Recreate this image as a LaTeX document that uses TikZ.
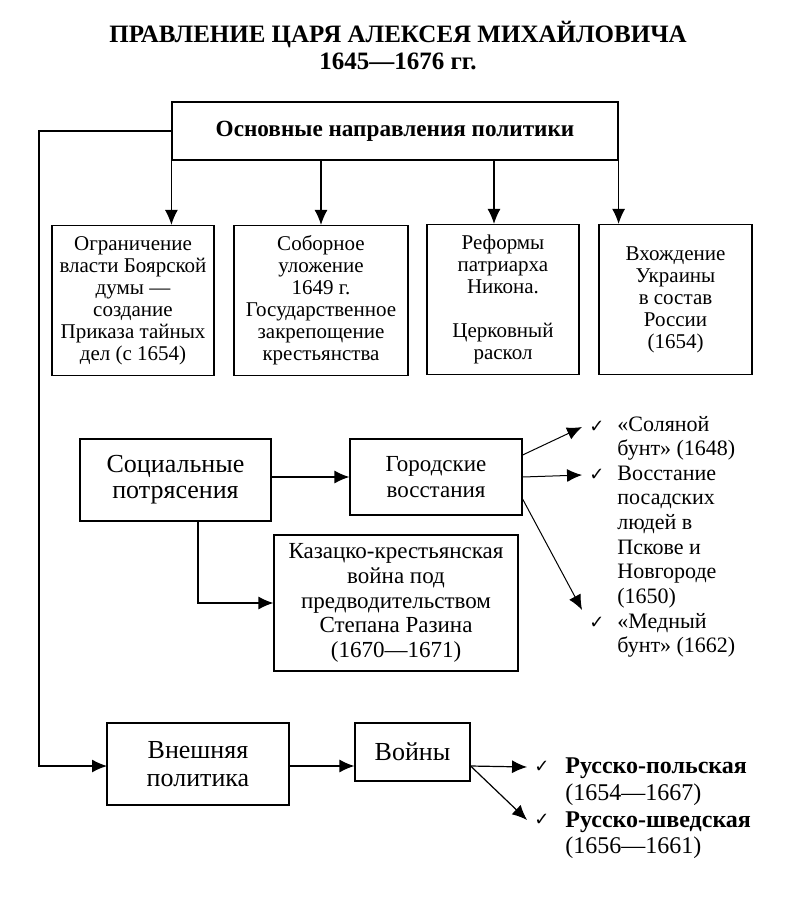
\documentclass[tikz,border=0pt]{standalone}
\usepackage{fontspec}
\setmainfont{Liberation Serif}
\newfontfamily\checkfont{DejaVu Sans}
\usetikzlibrary{arrows.meta}

\begin{document}
\begin{tikzpicture}[x=0.5pt, y=-0.5pt,
  box/.style={rectangle, draw, line width=0.6pt, align=center, inner sep=0pt},
  dirbox/.style={box, minimum height=75pt, font=\fontsize{10.5}{11}\selectfont},
  arr/.style={-{Latex[length=7.5pt,width=6.5pt]}, line width=0.6pt},
  item/.style={anchor=west, align=left, inner sep=0pt},
  tick/.style={inner sep=3.5pt, font=\checkfont\fontsize{9}{10}\selectfont}]

\useasboundingbox (0,0) rectangle (797,911);

% title
\node[align=center, font=\bfseries\fontsize{12.5}{13.5}\selectfont]
(title) at (398,46) {ПРАВЛЕНИЕ ЦАРЯ АЛЕКСЕЯ МИХАЙЛОВИЧА\\1645—1676 гг.};

\node[box, minimum width=223pt, minimum height=29pt,
      font=\bfseries\fontsize{11.6}{14}\selectfont]
(main) at (395,131) {Основные направления политики};

% main directions
\node[dirbox, minimum width=81pt] (duma) at (133,300.5)
  {Ограничение\\власти Боярской\\думы —\\создание\\Приказа тайных\\дел (с 1654)};
\node[dirbox, minimum width=87pt] (code) at (321,300.5)
  {Соборное\\уложение\\1649 г.\\Государственное\\закрепощение\\крестьянства};
\node[dirbox, minimum width=76pt] (nikon) at (503,299.5)
  {Реформы\\патриарха\\Никона.\\[11pt]Церковный\\раскол};
\node[dirbox, minimum width=76.5pt] (ukraine) at (675.5,299.5)
  {Вхождение\\Украины\\в состав\\России\\(1654)};

\draw[arr] (main.south west) -- (main.south west |- duma.north);
\draw[arr] (main.south -| code.center) -- (code.north);
\draw[arr] ([xshift=-4.5pt]main.south -| nikon.center) -- ([xshift=-4.5pt]nikon.north);
\draw[arr] (main.south east) -- (main.south east |- ukraine.north);

% social unrest
\node[box, minimum width=95.5pt, minimum height=41pt,
      font=\fontsize{13}{13}\selectfont]
(social) at (175.5,480) {Социальные\\потрясения};
\node[box, minimum width=86pt, minimum height=38pt,
      font=\fontsize{11.5}{13}\selectfont]
(urban) at (436,477) {Городские\\восстания};
\node[box, minimum width=122pt, minimum height=68pt,
      font=\fontsize{11.5}{12.3}\selectfont]
(razin) at (396,603) {Казацко-крестьянская\\война под\\предводительством\\Степана Разина\\(1670—1671)};

\draw[arr] (social.east |- urban) -- (urban.west);
\draw[arr] ([xshift=11.25pt]social.south) |- (razin.west);

\node[tick] (t1) at (597,427) {✓};
\node[tick] (t2) at (597,475) {✓};
\node[tick] (t3) at (597,623) {✓};
\node[item, font=\fontsize{11}{12.3}\selectfont] (salt) at (617,438.5)
  {«Соляной\\бунт» (1648)};
\node[item, font=\fontsize{11}{12.3}\selectfont] (pskov) at (617,537)
  {Восстание\\посадских\\людей в\\Пскове и\\Новгороде\\(1650)};
\node[item, font=\fontsize{11}{12.3}\selectfont] (copper) at (617,635.5)
  {«Медный\\бунт» (1662)};

\draw[arr, line width=0.5pt] ([yshift=11pt]urban.east) -- (t1.west);
\draw[arr, line width=0.5pt] (urban.east) -- (t2.west);
\draw[arr, line width=0.5pt] ([yshift=-11pt]urban.east) -- (t3.north west);

% foreign policy
\draw[arr] (main.west) -| (39,766) -- (39,766 -| 107,0) coordinate (fin);
\node[box, minimum width=91pt, minimum height=41pt,
      font=\fontsize{13}{14}\selectfont]
(foreign) at (198,764) {Внешняя\\политика};
\node[box, minimum width=57.5pt, minimum height=29pt,
      font=\fontsize{13}{14}\selectfont]
(wars) at (412.5,752) {Войны};

\draw[arr] (foreign.east |- 0,766) -- (wars.west |- 0,766);

\node[tick] (t4) at (542,767) {✓};
\node[tick] (t5) at (542,820) {✓};
\node[item, font=\fontsize{12}{13.3}\selectfont] (poland) at (565,781.5)
  {\textbf{Русско-польская}\\(1654—1667)};
\node[item, font=\fontsize{12}{13.3}\selectfont] (sweden) at (565,835)
  {\textbf{Русско-шведская}\\(1656—1661)};

\draw[arr] ([yshift=-7pt]wars.east) -- (t4.west);
\draw[arr] ([yshift=-7pt]wars.east) -- (t5.west);

\end{tikzpicture}
\end{document}
